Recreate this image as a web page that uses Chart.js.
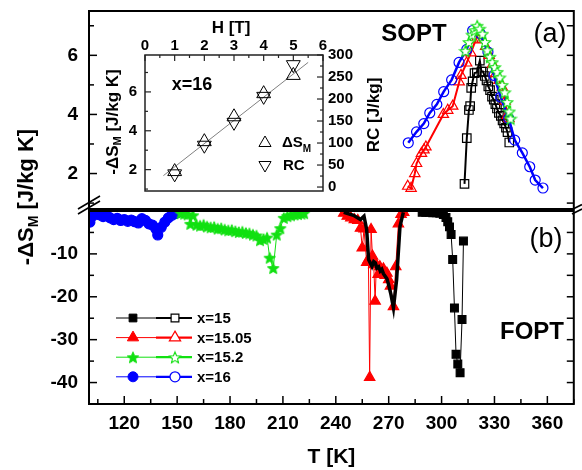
<!DOCTYPE html>
<html>
<head>
<meta charset="utf-8">
<script src="https://cdn.jsdelivr.net/npm/chart.js@4/dist/chart.umd.min.js"></script>
<style>
  html, body { margin: 0; padding: 0; background: #fff; }
  #wrap { position: relative; width: 582px; height: 470px; }
  #wrap canvas { position: absolute; left: 0; top: 0; }
</style>
</head>
<body>
<div id="wrap">
  <canvas id="fopt" width="582" height="470"></canvas>
  <canvas id="sopt" width="582" height="470"></canvas>
  <canvas id="inset" width="582" height="470"></canvas>
</div>
<script>
// (a) second order transition, open symbols: T [K] and -dS_M [J/kg K]
var tA15 = [313, 314.3, 315.5, 316.2, 316.8, 317.6, 318.7, 320, 321.7, 322.6, 323.5, 324.5, 325.5, 326.5, 327.5, 328.6, 329.6, 330.5, 331.4, 332.5, 333.6, 334.6, 335.5, 336.5, 337.4, 338.4];
var sA15 = [1.65, 3.2, 4.15, 4.28, 4.9, 5.12, 5.4, 5.42, 5.82, 5.45, 5.45, 5.3, 5.15, 4.95, 4.82, 4.6, 4.5, 4.35, 4.2, 4.05, 3.95, 3.8, 3.7, 3.55, 3.4, 3.05];
var tA1505 = [280.8, 282.7, 284.8, 285.8, 288.6, 290, 291.1, 301, 303.5, 306.3, 310, 311, 314.2, 316.6, 319.4, 321, 323, 325, 327, 329, 330.8, 332.6, 334.4, 336, 337.3, 338.2];
var sA1505 = [1.57, 1.5, 2.0, 2.34, 2.68, 2.8, 2.9, 4.0, 4.14, 4.28, 5.1, 5.32, 5.74, 6.08, 6.52, 6.78, 6.55, 6.3, 6.0, 5.7, 5.38, 5.15, 4.92, 4.45, 3.97, 3.86];
var tA152 = [313.5, 315.5, 317.3, 318.8, 320.2, 321.6, 323.2, 324.6, 326, 327.4, 328.8, 330.2, 331.6, 333, 334.4, 335.8, 337.2, 338.4, 339.1];
var sA152 = [6.15, 6.45, 6.7, 6.85, 7.0, 6.9, 6.73, 6.45, 6.17, 5.95, 5.77, 5.6, 5.44, 5.25, 5.0, 4.75, 4.42, 4.1, 3.86];
var tA16 = [281.1, 285.8, 289.9, 293.3, 297.3, 301.2, 305.7, 309.9, 314.3, 317.6, 322, 326.3, 329.7, 333.5, 338.1, 341.5, 345.8, 350, 353.1, 357.5];
var sA16 = [3.04, 3.41, 3.69, 4.05, 4.34, 4.77, 5.17, 5.76, 6.2, 6.84, 6.73, 6.11, 5.32, 4.59, 3.86, 3.13, 2.7, 2.23, 1.78, 1.51];

// (b) first order transition, filled symbols
var tB15 = [289, 291, 293, 295, 297, 299, 301, 302.5, 303.5, 304.5, 305.4, 306.3, 307.3, 308.2, 309.2, 310.5, 311.6, 312.4];
var sB15 = [-0.3, -0.3, -0.3, -0.4, -0.4, -0.5, -0.8, -1.5, -2.5, -3.7, -5.5, -11.3, -22.6, -33.4, -35.7, -37.7, -25.3, -7.0];
var tB1505 = [244.5, 246.5, 248.5, 250.5, 252.5, 254, 255, 256, 257.5, 258.5, 259.2, 260, 260.8, 261.5, 262.3, 263, 264, 265, 266, 267, 268, 269, 270, 271, 272.7, 274, 275.5, 277, 278.5];
var sB1505 = [-0.5, -1.2, -1.6, -2.0, -2.2, -4.0, -8.6, -4.2, -12.0, -11.3, -38.8, -4.3, -10.5, -12.5, -21.0, -12.5, -14.8, -13.0, -14.5, -13.5, -15.0, -14.5, -16.0, -17.5, -22.3, -13.0, -3.0, -0.8, -0.3];
var tB1505Guide = [244.5, 250, 254, 256, 257.5, 258.6, 260.5, 261.5, 262.4, 263.3, 264.3, 265.2, 266.1, 267, 268, 269, 269.9, 271.3, 272.7, 274.5, 276.4, 278.3];
var sB1505Guide = [-0.3, -1.0, -2.0, -1.2, -4.3, -11.3, -12.9, -11.8, -12.1, -13.3, -13.0, -14.0, -13.6, -14.6, -15.2, -15.8, -17.1, -19.5, -22.6, -16.0, -3.6, -0.3];
var tB152 = [152, 154, 156, 157.5, 159, 161, 163, 165, 167, 169, 171, 173, 175, 177, 179, 181, 183, 185, 187, 189, 191, 193, 195, 197, 199, 201, 202.5, 204.5, 206.5, 208.5, 210.5, 212.5, 214.5, 216.5, 218.5, 220.5, 222];
var sB152 = [-0.5, -0.6, -0.8, -3.0, -1.0, -3.2, -3.4, -3.2, -3.6, -3.8, -3.7, -4.1, -4.0, -4.3, -4.5, -4.4, -4.7, -4.9, -4.8, -5.1, -5.2, -5.5, -5.7, -6.8, -6.5, -6.2, -10.9, -13.3, -5.5, -4.0, -1.6, -1.2, -1.0, -0.8, -0.7, -0.6, -0.5];
var tB16 = [100.5, 102, 104, 106, 108, 110, 112, 114, 116, 118, 120, 122, 124, 126, 128, 130, 132, 134, 136, 138, 139, 141, 143, 145, 147, 149, 150.5];
var sB16 = [-2.6, -1.2, -0.6, -0.9, -1.3, -1.0, -1.6, -2.0, -1.7, -2.2, -2.0, -2.4, -2.1, -2.5, -2.8, -1.8, -2.2, -3.0, -3.3, -4.2, -5.6, -3.8, -2.6, -1.6, -1.0, -0.6, -0.3];

// inset: field dependence for x=16
var fieldH = [1, 2, 3, 4, 5];
var peakDS = [1.9, 3.44, 4.72, 5.91, 6.85];
var peakRC = [30, 95, 147, 206, 278];
var fitH = [0.62, 5.5];
var fitDS = [1.69, 7.52];

// tick labels
var tTicks = [120, 150, 180, 210, 240, 270, 300, 330, 360];
var sTopTicks = [2, 4, 6];
var sBotTicks = [-10, -20, -30, -40];
var hTicks = [0, 1, 2, 3, 4, 5, 6];
var dsTicks = [2, 4, 6];
var rcTicks = [0, 50, 100, 150, 200, 250, 300];
var seriesNames = ['x=15', 'x=15.05', 'x=15.2', 'x=16'];

var FONT = 'Arial, "Liberation Sans", Helvetica, sans-serif';
Chart.defaults.font.family = FONT;
Chart.defaults.color = '#000';

var BLACK = '#000000', RED = '#ff0000', GREEN = '#11e011', BLUE = '#0000ff';

function css(px, weight) { return (weight || 'bold') + ' ' + px + 'px ' + FONT; }
function bold(px) { return { family: FONT, size: px, weight: 'bold' }; }
function fixTicks(vals) {
  return function (s) { s.ticks = vals.map(function (v) { return { value: v }; }); };
}
function range(a, b, step) {
  var out = [];
  for (var v = a; v <= b + 1e-9; v += step) out.push(+v.toFixed(3));
  return out;
}
function pts(xs, ys) {
  return xs.map(function (x, i) { return { x: x, y: ys[i] }; });
}
function series(xs, ys, o) {
  return Object.assign({ data: pts(xs, ys), showLine: true, tension: 0, pointBorderWidth: 1.2 }, o);
}
function sizeY(w) {
  return function (s) { s.width = w; s.paddingTop = 0; s.paddingBottom = 0; };
}
function sizeX(h) {
  return function (s) { s.height = h; s.paddingLeft = 0; s.paddingRight = 0; };
}

// five-pointed star used as point style
function starImage(size, fill, stroke, lw) {
  var c = document.createElement('canvas');
  c.width = c.height = size;
  var g = c.getContext('2d');
  var cx = size / 2, cy = size / 2 + size * 0.05, R = size / 2 - lw, r = R * 0.45;
  g.beginPath();
  for (var i = 0; i < 10; i++) {
    var a = -Math.PI / 2 + i * Math.PI / 5, rr = i % 2 ? r : R;
    g.lineTo(cx + rr * Math.cos(a), cy + rr * Math.sin(a));
  }
  g.closePath();
  if (fill) { g.fillStyle = fill; g.fill(); }
  g.lineWidth = lw; g.strokeStyle = stroke; g.stroke();
  return c;
}
var starOpen = starImage(14, '#ffffff', GREEN, 1.1);
var starFull = starImage(14, GREEN, GREEN, 1);

// marker drawing for the hand-made legends
function drawMark(ctx, kind, x, y, r, fill, stroke, lw) {
  if (kind === 'star') {
    var img = fill ? starFull : starOpen;
    ctx.drawImage(img, x - img.width / 2, y - img.height / 2);
    return;
  }
  ctx.save();
  ctx.beginPath();
  if (kind === 'circle') {
    ctx.arc(x, y, r, 0, Math.PI * 2);
  } else if (kind === 'rect') {
    var s = r * Math.SQRT1_2;
    ctx.rect(x - s, y - s, 2 * s, 2 * s);
  } else {
    var rad = kind === 'triangle' ? 0 : Math.PI;
    for (var i = 0; i < 3; i++) {
      ctx.lineTo(x + Math.sin(rad) * r, y - Math.cos(rad) * r);
      rad += 2 * Math.PI / 3;
    }
    ctx.closePath();
  }
  ctx.fillStyle = fill || '#ffffff';
  ctx.fill();
  ctx.lineWidth = lw || 1.2;
  ctx.strokeStyle = stroke;
  ctx.stroke();
  ctx.restore();
}

// text run with subscripts, centred on (x, y) and optionally rotated
function richText(ctx, parts, x, y, rot) {
  ctx.save();
  ctx.translate(x, y);
  ctx.rotate(rot || 0);
  ctx.fillStyle = '#000';
  ctx.textBaseline = 'middle';
  ctx.textAlign = 'left';
  var total = 0;
  parts.forEach(function (p) { ctx.font = p[1]; total += ctx.measureText(p[0]).width; });
  var cx = -total / 2;
  parts.forEach(function (p) {
    ctx.font = p[1];
    ctx.fillText(p[0], cx, p[2] || 0);
    cx += ctx.measureText(p[0]).width;
  });
  ctx.restore();
}

// plot frame plus inward tick marks
var frameTicks = {
  id: 'frameTicks',
  afterDatasetsDraw: function (chart, args, opts) {
    var ca = chart.chartArea, ctx = chart.ctx;
    ctx.save();
    ctx.strokeStyle = opts.color || '#000';
    ctx.lineWidth = opts.tickWidth || 1.5;
    (opts.marks || []).forEach(function (m) {
      var sc = chart.scales[m.scale];
      m.values.forEach(function (v) {
        var p = sc.getPixelForValue(v);
        ctx.beginPath();
        if (m.side === 'left') { ctx.moveTo(ca.left, p); ctx.lineTo(ca.left + m.len, p); }
        if (m.side === 'right') { ctx.moveTo(ca.right, p); ctx.lineTo(ca.right - m.len, p); }
        if (m.side === 'bottom') { ctx.moveTo(p, ca.bottom); ctx.lineTo(p, ca.bottom - m.len); }
        if (m.side === 'top') { ctx.moveTo(p, ca.top); ctx.lineTo(p, ca.top + m.len); }
        ctx.stroke();
      });
    });
    ctx.lineWidth = opts.width || 2;
    ctx.strokeRect(ca.left, ca.top, ca.right - ca.left, ca.bottom - ca.top);
    ctx.restore();
  }
};

var noGrid = { display: false, drawTicks: false };
var noBorder = { display: false };

// ---------- panel (b): FOPT ----------
var legendRows = [
  { color: BLACK, kind: 'rect', r: 5.5 },
  { color: RED, kind: 'triangle', r: 6.5 },
  { color: GREEN, kind: 'star', r: 6 },
  { color: BLUE, kind: 'circle', r: 5 }
];

var bottomText = {
  id: 'bottomText',
  afterDraw: function (chart) {
    var ctx = chart.ctx;
    richText(ctx, [['(b)', css(27, 'normal')]], 546, 240);
    richText(ctx, [['FOPT', css(24)]], 532, 332);
    legendRows.forEach(function (row, i) {
      var y = 318 + i * 19.6;
      ctx.save();
      ctx.strokeStyle = row.color;
      ctx.lineWidth = 1;
      ctx.beginPath(); ctx.moveTo(116, y); ctx.lineTo(156, y); ctx.stroke();
      ctx.lineWidth = 2.2;
      ctx.beginPath(); ctx.moveTo(156, y); ctx.lineTo(192, y); ctx.stroke();
      ctx.restore();
      drawMark(ctx, row.kind, 133, y, row.r, row.color, row.color, 1);
      drawMark(ctx, row.kind, 175, y, row.r, null, row.color, 1.2);
      ctx.save();
      ctx.font = css(15);
      ctx.fillStyle = '#000';
      ctx.textBaseline = 'middle';
      ctx.fillText(seriesNames[i], 197, y + 1);
      ctx.restore();
    });
  }
};

new Chart(document.getElementById('fopt'), {
  type: 'scatter',
  data: {
    datasets: [
      series(tB1505Guide, sB1505Guide, { borderColor: BLACK, borderWidth: 3.5, pointRadius: 0 }),
      series(tB15, sB15, { borderColor: BLACK, borderWidth: 1, pointStyle: 'rect', pointRadius: 5.5, backgroundColor: BLACK, pointBorderColor: BLACK }),
      series(tB1505, sB1505, { borderColor: RED, borderWidth: 1, pointStyle: 'triangle', pointRadius: 6, backgroundColor: RED, pointBorderColor: RED }),
      series(tB152, sB152, { borderColor: GREEN, borderWidth: 1, pointStyle: starFull, pointRadius: 7 }),
      series(tB16, sB16, { borderColor: BLUE, borderWidth: 1, pointStyle: 'circle', pointRadius: 5, backgroundColor: BLUE, pointBorderColor: BLUE })
    ]
  },
  options: {
    responsive: false, animation: false, devicePixelRatio: 1,
    layout: { padding: { top: 211, right: 3, bottom: 0, left: 0 } },
    plugins: {
      legend: { display: false }, tooltip: { enabled: false },
      frameTicks: {
        width: 2,
        marks: [
          { scale: 'x', side: 'bottom', values: tTicks, len: 8 },
          { scale: 'x', side: 'bottom', values: range(105, 375, 30), len: 5 },
          { scale: 'y', side: 'left', values: sBotTicks, len: 8 },
          { scale: 'y', side: 'left', values: range(-45, -5, 10), len: 5 },
          { scale: 'y', side: 'right', values: range(-45, -5, 5), len: 7 }
        ]
      }
    },
    scales: {
      x: {
        type: 'linear', min: 100, max: 375,
        afterFit: sizeX(66), afterBuildTicks: fixTicks(tTicks),
        grid: noGrid, border: noBorder,
        ticks: { font: bold(19), padding: 8, color: '#000' },
        title: { display: true, text: 'T [K]', font: bold(21), padding: { top: 0, bottom: 0 }, color: '#000' }
      },
      y: {
        min: -45, max: 0,
        afterFit: sizeY(89), afterBuildTicks: fixTicks(sBotTicks),
        grid: noGrid, border: noBorder,
        ticks: { font: bold(19), padding: 11, color: '#000' }
      }
    }
  },
  plugins: [frameTicks, bottomText]
});

// ---------- panel (a): SOPT ----------
var topText = {
  id: 'topText',
  afterDraw: function (chart) {
    var ctx = chart.ctx;
    richText(ctx, [['SOPT', css(24)]], 414, 34);
    richText(ctx, [['(a)', css(27, 'normal')]], 550, 35);
    richText(ctx, [['-\u0394S', css(22)], ['M', css(14), 7], [' [J/kg K]', css(22)]], 27, 197, -Math.PI / 2);
    // axis break marks
    ctx.save();
    ctx.strokeStyle = '#000';
    ctx.lineWidth = 1.6;
    [[78, 214, 100, 201], [78, 209, 100, 196], [572, 214, 582, 209], [572, 209.5, 582, 204.5]].forEach(function (l) {
      ctx.beginPath(); ctx.moveTo(l[0], l[1]); ctx.lineTo(l[2], l[3]); ctx.stroke();
    });
    ctx.restore();
  }
};

new Chart(document.getElementById('sopt'), {
  type: 'scatter',
  data: {
    datasets: [
      series(tA152, sA152, { borderColor: GREEN, borderWidth: 1, pointStyle: starOpen, pointRadius: 7 }),
      series(tA16, sA16, { borderColor: BLUE, borderWidth: 2.5, pointStyle: 'circle', pointRadius: 5, backgroundColor: 'rgba(255,255,255,0)', pointBorderColor: BLUE }),
      series(tA1505, sA1505, { borderColor: RED, borderWidth: 2, pointStyle: 'triangle', pointRadius: 6, backgroundColor: 'rgba(255,255,255,0)', pointBorderColor: RED }),
      series(tA15, sA15, { borderColor: BLACK, borderWidth: 2, pointStyle: 'rect', pointRadius: 6, backgroundColor: 'rgba(255,255,255,0)', pointBorderColor: BLACK })
    ]
  },
  options: {
    responsive: false, animation: false, devicePixelRatio: 1,
    layout: { padding: { top: 11, right: 3, bottom: 261, left: 0 } },
    plugins: {
      legend: { display: false }, tooltip: { enabled: false },
      frameTicks: {
        width: 2,
        marks: [
          { scale: 'y', side: 'left', values: sTopTicks, len: 8 },
          { scale: 'y', side: 'left', values: [1, 3, 5, 7], len: 5 },
          { scale: 'y', side: 'right', values: range(1, 7, 1), len: 7 }
        ]
      }
    },
    scales: {
      x: { type: 'linear', min: 100, max: 375, display: false },
      y: {
        min: 0.8, max: 7.5,
        afterFit: sizeY(89), afterBuildTicks: fixTicks(sTopTicks),
        grid: noGrid, border: noBorder,
        ticks: { font: bold(19), padding: 11, color: '#000' }
      }
    }
  },
  plugins: [frameTicks, topText]
});

// ---------- inset: peak entropy change and RC vs field ----------
var insetText = {
  id: 'insetText',
  afterDraw: function (chart) {
    var ctx = chart.ctx;
    richText(ctx, [['H [T]', css(17)]], 231, 28);
    richText(ctx, [['-\u0394S', css(17)], ['M', css(11), 5], [' [J/kg K]', css(17)]], 113, 122, -Math.PI / 2);
    richText(ctx, [['RC [J/kg]', css(17)]], 374, 115, -Math.PI / 2);
    richText(ctx, [['x=16', css(18)]], 192, 85);
    drawMark(ctx, 'triangle', 265, 143, 7, null, BLACK, 1);
    drawMark(ctx, 'triangleDown', 265, 165, 7, null, BLACK, 1);
    ctx.save();
    ctx.fillStyle = '#000';
    ctx.textBaseline = 'middle';
    ctx.font = css(15);
    ctx.fillText('\u0394S', 282, 143);
    var w = ctx.measureText('\u0394S').width;
    ctx.font = css(10);
    ctx.fillText('M', 282 + w, 149);
    ctx.font = css(15);
    ctx.fillText('RC', 283, 166);
    ctx.restore();
  }
};

new Chart(document.getElementById('inset'), {
  type: 'scatter',
  data: {
    datasets: [
      { data: pts(fieldH, peakDS), yAxisID: 'y', pointStyle: 'triangle', pointRadius: 8, pointBorderWidth: 1, pointBorderColor: BLACK, backgroundColor: 'rgba(255,255,255,0)' },
      { data: pts(fieldH, peakRC), yAxisID: 'y2', pointStyle: 'triangle', pointRotation: 180, pointRadius: 8, pointBorderWidth: 1, pointBorderColor: BLACK, backgroundColor: 'rgba(255,255,255,0)' },
      series(fitH, fitDS, { yAxisID: 'y', borderColor: '#808080', borderWidth: 1, pointRadius: 0 })
    ]
  },
  options: {
    responsive: false, animation: false, devicePixelRatio: 1,
    layout: { padding: { top: 0, right: 0, bottom: 279, left: 0 } },
    plugins: {
      legend: { display: false }, tooltip: { enabled: false },
      frameTicks: {
        width: 1.5, color: '#222', tickWidth: 1.2,
        marks: [
          { scale: 'x', side: 'top', values: hTicks, len: 6 },
          { scale: 'x', side: 'top', values: range(0.5, 5.5, 1), len: 3 },
          { scale: 'y', side: 'left', values: dsTicks, len: 6 },
          { scale: 'y', side: 'left', values: [1, 3, 5, 7], len: 3 },
          { scale: 'y2', side: 'right', values: rcTicks, len: 6 },
          { scale: 'y2', side: 'right', values: range(25, 275, 50), len: 3 }
        ]
      }
    },
    scales: {
      x: {
        type: 'linear', position: 'top', min: 0, max: 6,
        afterFit: sizeX(55), afterBuildTicks: fixTicks(hTicks),
        grid: noGrid, border: noBorder,
        ticks: { font: bold(15), padding: 0, color: '#000' }
      },
      y: {
        position: 'left', min: 0.9, max: 7.9,
        afterFit: sizeY(145), afterBuildTicks: fixTicks(dsTicks),
        grid: noGrid, border: noBorder,
        ticks: { font: bold(15), padding: 8, color: '#000' }
      },
      y2: {
        position: 'right', min: -9, max: 300,
        afterFit: sizeY(259), afterBuildTicks: fixTicks(rcTicks),
        grid: noGrid, border: noBorder,
        ticks: { font: bold(15), padding: 5, color: '#000' }
      }
    }
  },
  plugins: [frameTicks, insetText]
});
</script>
</body>
</html>
